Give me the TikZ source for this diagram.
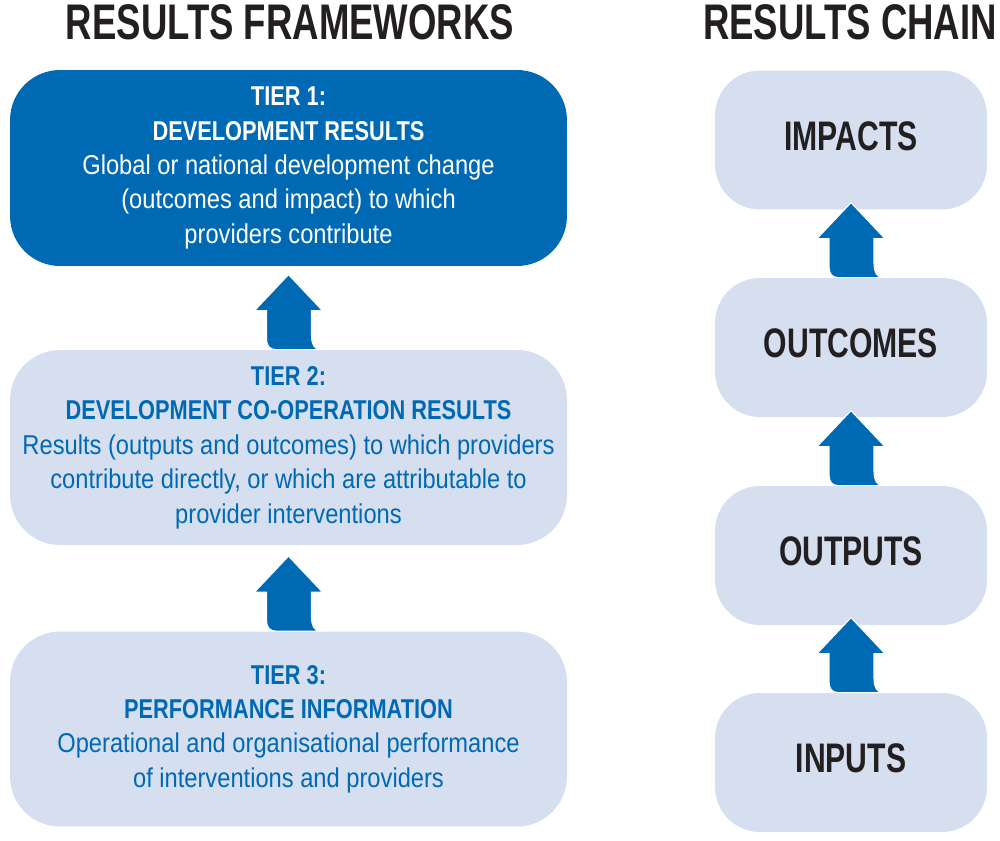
\documentclass[tikz,border=0pt]{standalone}
\usepackage{fontspec}
\setmainfont{Liberation Sans}[FakeStretch=0.87,BoldFeatures={FakeStretch=0.8}]
\newfontfamily\condfont{Liberation Sans}[FakeStretch=0.73,BoldFeatures={FakeStretch=0.73}]
\usepackage{tikz}
\usetikzlibrary{positioning,calc}
\definecolor{TierBlue}{HTML}{0069B4}
\definecolor{SoftTier}{HTML}{D5DFF0}
\definecolor{HeadBlack}{HTML}{231F20}
\tikzset{
  % Base rounded box
  RB/.style={rectangle,rounded corners=1cm,align=center,
             text centered,inner sep=0pt},
  % Tier boxes (left)
  tD/.style={RB,fill=TierBlue,text=white,
             minimum width=11.14cm,minimum height=3.92cm,
             font=\fontsize{15.5}{19.6}\selectfont},
  tL/.style={RB,fill=SoftTier,text=TierBlue,
             minimum width=11.14cm,minimum height=3.9cm,
             font=\fontsize{15.5}{19.6}\selectfont},
  % Chain boxes (right)
  cL/.style={RB,rounded corners=0.9cm,fill=SoftTier,text=HeadBlack,
             minimum width=5.44cm,minimum height=2.78cm,text depth=0.16cm,
             font=\condfont\fontsize{23.5}{27}\selectfont\bfseries},
  % Headings
  hd/.style={font=\condfont\fontsize{28.5}{32}\selectfont\bfseries,
             text=HeadBlack,anchor=base,inner sep=0pt},
  % Up arrow with curled foot
  riser/.pic={
    \fill[TierBlue,draw=white,line width=0.6pt]
      (0,-75) -- (34,-39) -- (23,-39) -- (23,-14)
      .. controls (23,-5) and (26,-1) .. (31,0) -- (-12,0)
      .. controls (-19,0) and (-22,-4) .. (-22,-11)
      -- (-22,-39) -- (-34,-39) -- cycle;
  }
}
\begin{document}
\begin{tikzpicture}[x=0.02cm,y=-0.02cm]
  \useasboundingbox (0,0) rectangle (1000,841);
  % Headings
  \node[hd] (hfw) at (290,40) {RESULTS FRAMEWORKS};
  \node[hd] (hch) at (850,40) {RESULTS CHAIN};
  % Results frameworks
  \node[tD] (t1) at (288.5,168)
    {\bfseries TIER 1:\\ \bfseries DEVELOPMENT RESULTS\\
     Global or national development change\\
     (outcomes and impact) to which\\ providers contribute};
  \node[tL] (t2) at (288.5,447.5)
    {\bfseries TIER 2:\\ \bfseries DEVELOPMENT CO-OPERATION RESULTS\\
     Results (outputs and outcomes) to which providers\\
     contribute directly, or which are attributable to\\
     provider interventions};
  \node[tL] (t3) at (288.5,729)
    {\bfseries TIER 3:\\ \bfseries PERFORMANCE INFORMATION\\
     Operational and organisational performance\\
     of interventions and providers};
  % Results chain
  \node[cL] (imp) at (851,140)   {IMPACTS};
  \node[cL] (oc)  at (851,347.5) {OUTCOMES};
  \node[cL] (op)  at (851,555.5) {OUTPUTS};
  \node[cL] (ip)  at (851,762.5) {INPUTS};
  % Arrows
  \pic at (t1.south |- t2.north) {riser};
  \pic at (t2.south |- t3.north) {riser};
  \pic at (imp.south |- oc.north) {riser};
  \pic at (oc.south |- op.north) {riser};
  \pic at (op.south |- ip.north) {riser};
\end{tikzpicture}
\end{document}
